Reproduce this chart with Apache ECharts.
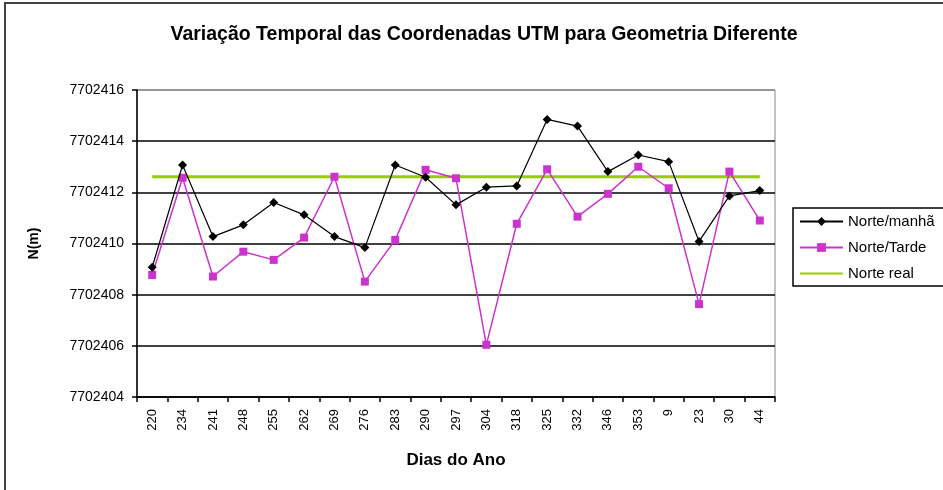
<!DOCTYPE html>
<html>
<head>
<meta charset="utf-8">
<script src="https://cdn.jsdelivr.net/npm/echarts@6/dist/echarts.min.js"></script>
<style>html,body{margin:0;padding:0;background:#fff;}#chart{width:943px;height:490px;}</style>
</head>
<body>
<div id="chart"></div>
<script>
const categories = ['220','234','241','248','255','262','269','276','283','290','297','304','318','325','332','346','353','9','23','30','44'];
const norteManha = [7702409.07,7702413.07,7702410.27,7702410.73,7702411.60,7702411.12,7702410.27,7702409.84,7702413.07,7702412.59,7702411.51,7702412.20,7702412.25,7702414.85,7702414.59,7702412.81,7702413.46,7702413.20,7702410.08,7702411.86,7702412.07];
const norteTarde = [7702408.77,7702412.57,7702408.71,7702409.68,7702409.36,7702410.23,7702412.61,7702408.51,7702410.14,7702412.88,7702412.55,7702406.04,7702410.77,7702412.90,7702411.05,7702411.94,7702413.00,7702412.16,7702407.63,7702412.81,7702410.90];
const norteReal = [7702412.61,7702412.61,7702412.61,7702412.61,7702412.61,7702412.61,7702412.61,7702412.61,7702412.61,7702412.61,7702412.61,7702412.61,7702412.61,7702412.61,7702412.61,7702412.61,7702412.61,7702412.61,7702412.61,7702412.61,7702412.61];
const seriesNames = ['Norte/manhã','Norte/Tarde','Norte real'];
const yMin = 7702404, yMax = 7702416, yStep = 2;

const FONT = 'Liberation Sans, Arial, sans-serif';
const chart = echarts.init(document.getElementById('chart'));
chart.setOption({
  backgroundColor: '#fff',
  animation: false,
  graphic: [{
    type: 'rect', z: -1, silent: true,
    shape: {x: 5, y: 3, width: 960, height: 520},
    style: {fill: 'none', stroke: '#444', lineWidth: 2}
  }],
  title: {
    text: 'Variação Temporal das Coordenadas UTM para Geometria Diferente',
    left: 479, top: 20, textAlign: 'center',
    textStyle: {fontFamily: FONT, fontWeight: 'bold', fontSize: 19.5, color: '#000'}
  },
  legend: {
    orient: 'vertical', left: 793, top: 208,
    data: [
      {name: seriesNames[0]},
      {name: seriesNames[1]},
      {name: seriesNames[2], itemStyle: {opacity: 0}}
    ],
    borderColor: '#000', borderWidth: 1.5,
    padding: [6, 10, 5, 6],
    itemWidth: 43, itemHeight: 11, itemGap: 11,
    textStyle: {fontFamily: FONT, fontSize: 15, color: '#000'}
  },
  grid: {left: 137, right: 168, top: 90, bottom: 93, show: true, borderColor: '#888', borderWidth: 1},
  xAxis: {
    type: 'category', data: categories, boundaryGap: true,
    name: 'Dias do Ano', nameLocation: 'middle', nameGap: 55,
    nameTextStyle: {fontFamily: FONT, fontWeight: 'bold', fontSize: 17, color: '#000'},
    axisLine: {lineStyle: {color: '#000', width: 1.5}},
    axisTick: {show: true, interval: 0, length: 5, lineStyle: {color: '#000', width: 1.5}},
    axisLabel: {rotate: 90, interval: 0, margin: 12, fontFamily: FONT, fontSize: 13, color: '#000'},
    splitLine: {show: false}
  },
  yAxis: {
    type: 'value', min: yMin, max: yMax, interval: yStep,
    name: 'N(m)', nameLocation: 'middle', nameGap: 96, nameRotate: 90,
    nameTextStyle: {fontFamily: FONT, fontWeight: 'bold', fontSize: 14, color: '#000'},
    axisLine: {show: true, lineStyle: {color: '#000', width: 1.5}},
    axisTick: {show: true, length: 5, lineStyle: {color: '#000', width: 1.5}},
    axisLabel: {margin: 13, fontFamily: FONT, fontSize: 14, color: '#000', formatter: v => String(v)},
    splitLine: {show: true, lineStyle: {color: ['#000','#000','#000','#000','#000','#000','#888'], width: 1.5}}
  },
  series: [
    {name: seriesNames[0], type: 'line', data: norteManha, symbol: 'diamond', symbolSize: 9,
     lineStyle: {color: '#000', width: 1.2}, itemStyle: {color: '#000'}, z: 4},
    {name: seriesNames[1], type: 'line', data: norteTarde, symbol: 'rect', symbolSize: 8,
     lineStyle: {color: '#cc33cc', width: 1.5}, itemStyle: {color: '#cc33cc'}, z: 3},
    {name: seriesNames[2], type: 'line', data: norteReal, symbol: 'none', showSymbol: false,
     lineStyle: {color: '#99cc00', width: 3}, itemStyle: {color: '#99cc00'}, z: 2}
  ]
});
</script>
</body>
</html>
